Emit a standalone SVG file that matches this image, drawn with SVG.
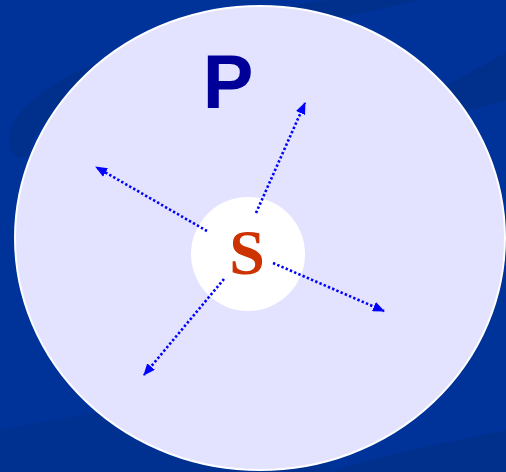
<svg xmlns="http://www.w3.org/2000/svg" width="506" height="472" viewBox="0 0 506 472">
<defs>
<style>
.conn{stroke:#0000ff;stroke-width:2.6;stroke-dasharray:2.4 2.2;fill:none}
.swoosh{fill:#00308c}
</style>
<marker id="ah" viewBox="0 0 12 10" refX="11" refY="5" markerWidth="12" markerHeight="10" markerUnits="userSpaceOnUse" orient="auto">
<path d="M0,0 L12,5 L0,10 z" fill="#0000ff"/>
</marker>
</defs>
<rect width="506" height="472" fill="#003399"/>
<path class="swoosh" d="M10,150 C0,110 60,70 160,40 C230,20 280,6 330,0 L420,0 C330,20 240,40 170,60 C90,85 40,110 30,150 C28,160 18,160 10,150 z"/>
<path class="swoosh" d="M440,90 C470,70 500,58 506,52 L506,100 C490,105 470,110 450,115 z"/>
<path class="swoosh" d="M0,430 C100,410 200,395 330,392 L330,472 L0,472 z" opacity="0.6"/>
<path class="swoosh" d="M330,472 C400,450 460,440 506,430 L506,472 z"/>
<g id="P-node">
<ellipse cx="260" cy="238" rx="245" ry="232" fill="#e3e3ff" stroke="#ffffff" stroke-width="2"/>
<text x="228" y="108" font-family="'Liberation Sans', Arial, sans-serif" font-weight="bold" font-size="76" fill="#000099" text-anchor="middle">P</text>
</g>
<g id="S-node">
<circle cx="248" cy="254" r="57" fill="#ffffff"/>
<text x="247" y="274" font-family="'Liberation Serif', 'Times New Roman', serif" font-weight="700" font-size="64" fill="#cc3300" text-anchor="middle">S</text>
</g>
<g id="connectors">
<line class="conn" x1="256" y1="213" x2="305" y2="103" marker-end="url(#ah)"/>
<line class="conn" x1="207" y1="231" x2="96" y2="167" marker-end="url(#ah)"/>
<line class="conn" x1="273" y1="263" x2="384" y2="311" marker-end="url(#ah)"/>
<line class="conn" x1="224" y1="279" x2="144" y2="375" marker-end="url(#ah)"/>
</g>
</svg>
